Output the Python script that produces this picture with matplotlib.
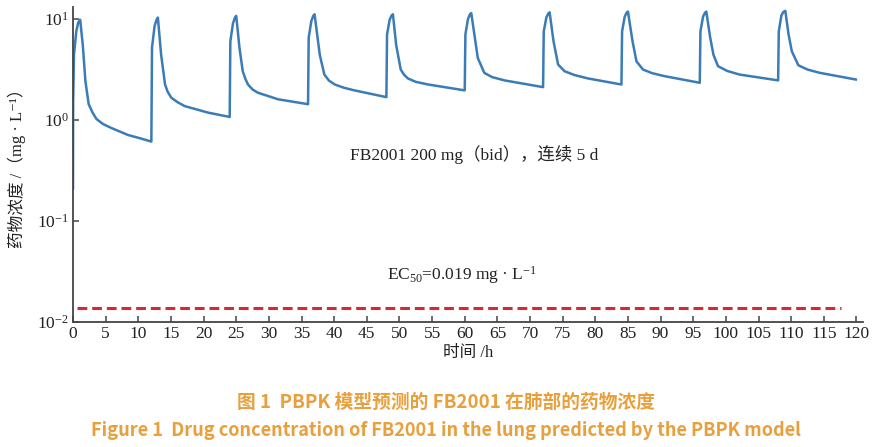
import matplotlib
matplotlib.use("Agg")
import matplotlib.pyplot as plt
from matplotlib.ticker import FixedLocator, NullLocator

# ---- data ----
time_h = [0, 0.02, 0.15, 0.5, 0.8, 1.1, 1.5, 1.9, 2.4, 3.0, 3.6, 4.6, 5.9, 8.4, 10.2, 12.0,
          12.1, 12.5, 12.8, 13.0, 13.5, 14.1, 14.5, 15.05, 16.0, 17.1, 20.7, 24.0,
          24.1, 24.5, 24.8, 25.0, 25.5, 26.0, 26.4, 26.8, 27.5, 28.3, 31.4, 36.0,
          36.1, 36.5, 36.8, 37.0, 37.8, 38.5, 39.2, 40.1, 41.5, 43.1, 48.0,
          48.1, 48.5, 48.8, 49.0, 49.5, 50.2, 50.7, 51.3, 52.5, 54.4, 60.0,
          60.1, 60.5, 60.8, 61.0, 62.0, 63.0, 64.2, 66.1, 72.0,
          72.1, 72.5, 72.8, 73.0, 73.6, 74.3, 75.3, 76.8, 78.9, 84.0,
          84.1, 84.5, 84.8, 85.0, 85.7, 86.3, 87.3, 88.7, 90.6, 96.0,
          96.1, 96.5, 96.8, 97.0, 97.6, 98.1, 98.8, 100.2, 102.1, 108.0,
          108.1, 108.5, 108.8, 109.1, 109.6, 110.1, 111.1, 112.5, 114.4, 119.9]
conc_mg_L = [0.21, 1.5, 4.4, 7.5, 9.2, 9.8, 5.5, 2.42, 1.43, 1.18, 1.02, 0.91, 0.83, 0.71, 0.66, 0.61,
             5.2, 8.5, 9.8, 10.3, 4.4, 2.24, 1.9, 1.66, 1.5, 1.37, 1.18, 1.07,
             6.0, 9.0, 10.3, 10.7, 5.15, 3.03, 2.55, 2.24, 2.0, 1.86, 1.6, 1.43,
             6.5, 9.5, 10.7, 11.1, 4.4, 2.81, 2.45, 2.24, 2.08, 1.96, 1.68,
             7.0, 9.8, 10.8, 11.1, 5.5, 3.15, 2.8, 2.57, 2.38, 2.24, 1.96,
             7.0, 10.0, 11.1, 11.4, 4.1, 2.92, 2.65, 2.46, 2.11,
             7.5, 10.3, 11.3, 11.6, 6.0, 3.53, 3.03, 2.78, 2.57, 2.24,
             7.5, 10.5, 11.5, 11.8, 6.0, 3.8, 3.15, 2.9, 2.71, 2.33,
             7.5, 10.5, 11.5, 11.8, 6.5, 4.4, 3.4, 3.05, 2.81, 2.46,
             7.5, 10.8, 11.7, 12.0, 7.0, 4.77, 3.47, 3.15, 2.92, 2.51]

ec50_time = [0.6, 117.6]
ec50_level = [0.0138, 0.0138]

x_ticks = list(range(0, 121, 5))
y_ticks = [0.01, 0.1, 1, 10]
y_ticklabels = [r"10$^{-2}$", r"10$^{-1}$", r"10$^{0}$", r"10$^{1}$"]

annotation_text = "FB2001 200 mg（bid），连续 5 d"
ec50_text = r"EC$_{50}$=0.019 mg · L$^{-1}$"
xlabel = "时间 /h"
ylabel = "药物浓度 /（mg · L⁻¹）"
caption_cn = "图 1  PBPK 模型预测的 FB2001 在肺部的药物浓度"
caption_en = "Figure 1  Drug concentration of FB2001 in the lung predicted by the PBPK model"

# ---- style ----
serif = ["Liberation Serif", "Noto Sans CJK SC", "DejaVu Sans"]
plt.rcParams["font.family"] = serif
plt.rcParams["mathtext.fontset"] = "custom"
plt.rcParams["mathtext.rm"] = "Liberation Serif"
plt.rcParams["mathtext.it"] = "Liberation Serif:italic"

fig = plt.figure(figsize=(8.87, 4.47), dpi=100)
ax = fig.add_axes([73 / 887, 1 - 322 / 447, (863 - 73) / 887, (322 - 7) / 447])

ax.plot(time_h, conc_mg_L, color="#3b7bb6", lw=1.8, solid_joinstyle="round")
ax.plot(ec50_time, ec50_level, color="#d42a35", lw=2.2, dashes=(3.2, 1.6))

ax.set_yscale("log")
ax.set_xlim(0, 121)
ax.set_ylim(0.01, 13.1)
ax.xaxis.set_major_locator(FixedLocator(x_ticks))
ax.yaxis.set_major_locator(FixedLocator(y_ticks))
ax.yaxis.set_minor_locator(NullLocator())
ax.set_yticklabels(y_ticklabels)
ax.set_xticklabels([str(v) for v in x_ticks])

for s in ("top", "right"):
    ax.spines[s].set_visible(False)
for s in ("left", "bottom"):
    ax.spines[s].set_color("#444444")
    ax.spines[s].set_linewidth(1.3)
ax.tick_params(direction="in", length=4, width=1.1, color="#444444",
               labelsize=12.5, labelcolor="#222222", pad=3)

ax.set_xlabel(xlabel, fontsize=12, color="#222222", labelpad=2)
ax.set_ylabel(ylabel, fontsize=12, color="#222222", labelpad=8)

fig.text(474 / 887, 1 - 155 / 447, annotation_text, fontsize=12.5,
         color="#222222", ha="center", va="center")
fig.text(462 / 887, 1 - 275 / 447, ec50_text, fontsize=12.5,
         color="#222222", ha="center", va="center")

cap_font = ["Noto Sans CJK SC", "DejaVu Sans"]
fig.text(446 / 887, 1 - 402 / 447, caption_cn, fontsize=13.5, color="#e8a03c",
         fontweight="bold", family=cap_font, ha="center", va="center")
fig.text(446 / 887, 1 - 430 / 447, caption_en, fontsize=13.1, color="#e8a03c",
         fontweight="bold", family=cap_font, ha="center", va="center")

fig.savefig("out.png", dpi=100, facecolor="white")
